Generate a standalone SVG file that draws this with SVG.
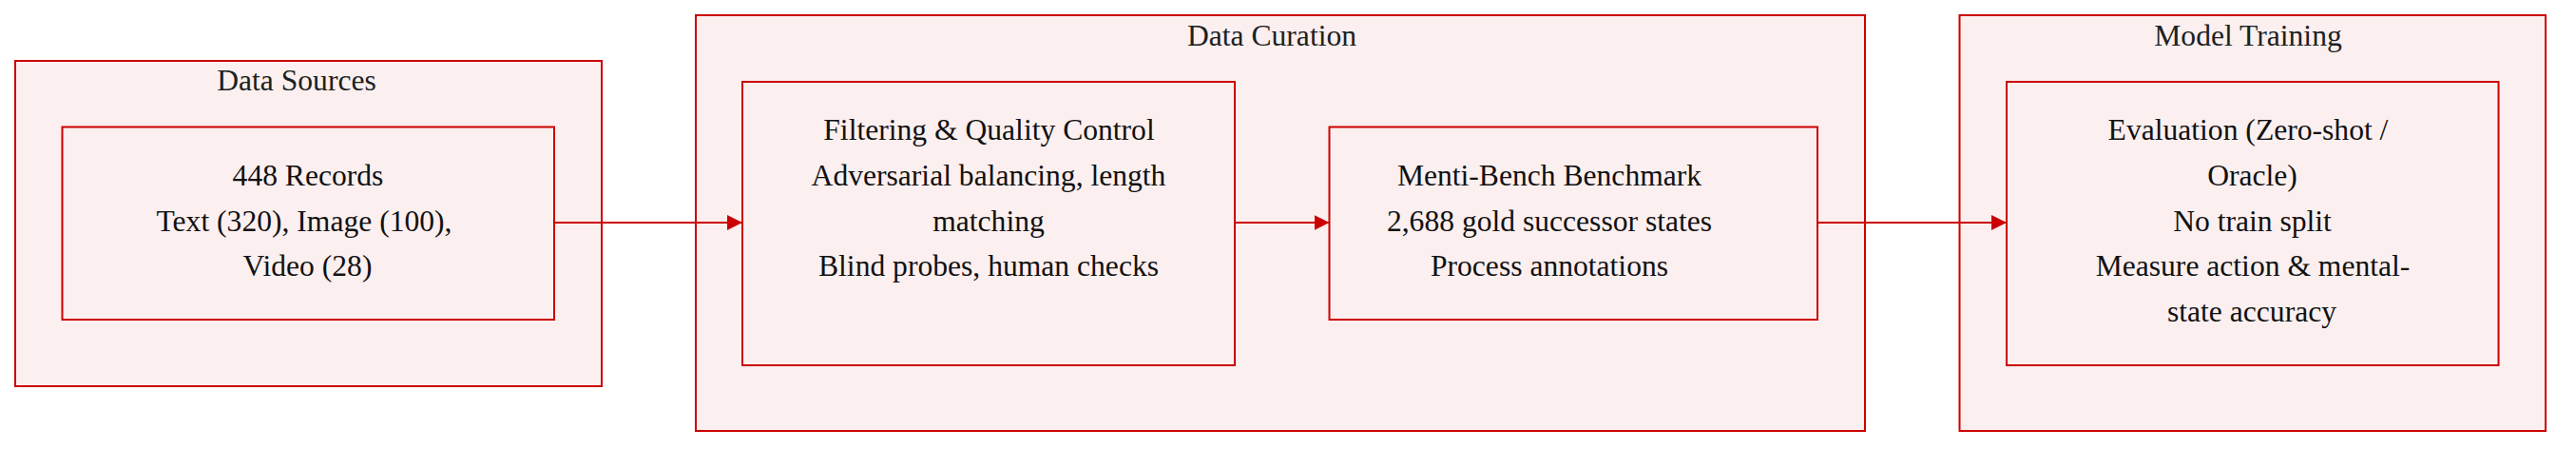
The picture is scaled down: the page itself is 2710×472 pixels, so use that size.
<svg xmlns="http://www.w3.org/2000/svg" width="2710" height="472" viewBox="0 0 2710 472">
<style>
.cl{fill:#fcefef;stroke:#cc0000;stroke-width:2}
.nd{fill:#fcefef;stroke:#cc0000;stroke-width:2}
.t{font-family:"Liberation Serif","Times New Roman",serif;font-size:31.6px;fill:#111;text-anchor:middle}
.ttl{fill:#1a2222}
.edge{stroke:#cc0000;stroke-width:2;fill:none}
</style>
<defs>
<marker id="ah" viewBox="0 0 16 16" refX="16" refY="8" markerWidth="16" markerHeight="16" markerUnits="userSpaceOnUse" orient="auto">
<path d="M0,0 L16,8 L0,16 Z" fill="#cc0000"/>
</marker>
</defs>
<g id="cluster-data-sources">
<rect class="cl" x="16" y="64" width="617" height="342"/>
<text class="t ttl" x="312" y="95">Data Sources</text>
</g>
<g id="cluster-data-curation">
<rect class="cl" x="732" y="16" width="1230" height="437"/>
<text class="t ttl" x="1338" y="48">Data Curation</text>
</g>
<g id="cluster-model-training">
<rect class="cl" x="2061.5" y="16" width="616.5" height="437"/>
<text class="t ttl" x="2365" y="48">Model Training</text>
</g>
<g id="edges">
<line class="edge" x1="583" y1="234" x2="781" y2="234" marker-end="url(#ah)"/>
<line class="edge" x1="1299" y1="234" x2="1398.5" y2="234" marker-end="url(#ah)"/>
<line class="edge" x1="1912" y1="234" x2="2111" y2="234" marker-end="url(#ah)"/>
</g>
<g id="node-records">
<rect class="nd" x="65.5" y="133.5" width="517.5" height="202.5"/>
<text class="t" x="324" y="195">448 Records</text>
<text class="t" x="320" y="243">Text (320), Image (100),</text>
<text class="t" x="323.5" y="290">Video (28)</text>
</g>
<g id="node-filtering">
<rect class="nd" x="781" y="86" width="518" height="298"/>
<text class="t" x="1040.5" y="147">Filtering &amp; Quality Control</text>
<text class="t" x="1040" y="195">Adversarial balancing, length</text>
<text class="t" x="1040" y="243">matching</text>
<text class="t" x="1040" y="290">Blind probes, human checks</text>
</g>
<g id="node-benchmark">
<rect class="nd" x="1398.5" y="133.5" width="513.5" height="202.5"/>
<text class="t" x="1630" y="195">Menti-Bench Benchmark</text>
<text class="t" x="1630" y="243">2,688 gold successor states</text>
<text class="t" x="1630" y="290">Process annotations</text>
</g>
<g id="node-evaluation">
<rect class="nd" x="2111" y="86" width="517.5" height="298"/>
<text class="t" x="2365" y="147">Evaluation (Zero-shot /</text>
<text class="t" x="2369.5" y="195">Oracle)</text>
<text class="t" x="2369.5" y="243">No train split</text>
<text class="t" x="2370" y="290">Measure action &amp; mental-</text>
<text class="t" x="2369" y="338">state accuracy</text>
</g>
</svg>
